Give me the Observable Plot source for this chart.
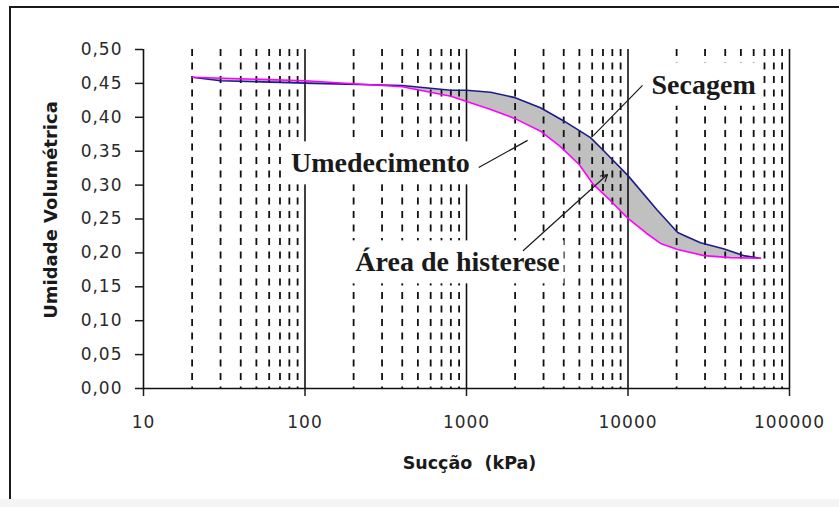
<!DOCTYPE html>
<html>
<head>
<meta charset="utf-8">
<script src="https://cdn.jsdelivr.net/npm/d3@7"></script>
<script src="https://cdn.jsdelivr.net/npm/@observablehq/plot@0.6"></script>
<style>
  html, body { margin: 0; padding: 0; background: #fff; }
  #chart { position: relative; width: 839px; height: 507px; overflow: hidden; }
  #chart svg { display: block; }
  #chart .border { position: absolute; left: 9px; top: 6px; right: -10px; bottom: -10px;
    border-left: 2px solid #1a1a1a; border-top: 2px solid #1a1a1a; pointer-events: none; }
  #chart .base { position: absolute; left: 0; right: 0; bottom: 0; height: 8px; background: #f4f4f4; }
  g[aria-label="x-axis tick label"] text,
  g[aria-label="y-axis tick label"] text { letter-spacing: 1px; }
</style>
</head>
<body>
<div id="chart"></div>
<script>
// Drying branch (Secagem): suction in kPa and volumetric water content
const drySuction = [20, 30, 113, 400, 800, 1000, 1410, 2000, 2870, 3980, 5860, 7050, 8130, 10000, 15200, 20300, 22100, 28100, 39000, 51900, 66000];
const dryTheta   = [0.459, 0.454, 0.450, 0.447, 0.440, 0.440, 0.437, 0.429, 0.414, 0.395, 0.370, 0.351, 0.336, 0.314, 0.263, 0.230, 0.226, 0.215, 0.206, 0.196, 0.192];

// Wetting branch (Umedecimento)
const wetSuction = [20, 100, 400, 800, 1400, 2000, 2900, 3800, 5000, 6100, 7800, 10000, 13000, 15900, 20300, 29500, 43000, 66000];
const wetTheta   = [0.459, 0.454, 0.445, 0.431, 0.412, 0.398, 0.379, 0.357, 0.330, 0.301, 0.277, 0.251, 0.229, 0.214, 0.205, 0.196, 0.193, 0.192];

// Axis ticks
const yTicks = [0, 0.05, 0.10, 0.15, 0.20, 0.25, 0.30, 0.35, 0.40, 0.45, 0.50];
const xMajor = [10, 100, 1000, 10000, 100000];
const xMinor = [20, 30, 40, 50, 60, 70, 80, 90,
                200, 300, 400, 500, 600, 700, 800, 900,
                2000, 3000, 4000, 5000, 6000, 7000, 8000, 9000,
                20000, 30000, 40000, 50000, 60000, 70000, 80000, 90000];

// Callout labels
const labels = ["Secagem", "Umedecimento", "Área de histerese"];

const drying = drySuction.map((s, i) => ({s, theta: dryTheta[i]}));
const wetting = wetSuction.map((s, i) => ({s, theta: wetTheta[i]}));
// Closed outline between the two branches
const hysteresis = [...drying, ...wetting.slice().reverse()];

const callouts = [
  {text: labels[0], s: 29400, theta: 0.448},
  {text: labels[1], s: 293, theta: 0.332},
  {text: labels[2], s: 879, theta: 0.186}
];
const leaders = [
  {s1: 12300, t1: 0.447, s2: 6100, t2: 0.373},
  {s1: 1190, t1: 0.326, s2: 2390, t2: 0.366}
];
const pointer = [{s1: 2250, t1: 0.2035, s2: 7460, t2: 0.3156}];

const fmtY = d => d.toFixed(2).replace(".", ",");

const chart = Plot.plot({
  width: 839,
  height: 507,
  marginLeft: 143,
  marginRight: 50,
  marginTop: 49,
  marginBottom: 119,
  x: {type: "log", domain: [10, 100000]},
  y: {domain: [0, 0.5]},
  style: {fontFamily: "DejaVu Sans", fontSize: "17px", color: "#1a1a1a", background: "#fff", overflow: "visible"},
  marks: [
    Plot.line(hysteresis, {x: "s", y: "theta", fill: "#c0c0c0", stroke: "none"}),
    Plot.ruleX(xMinor, {stroke: "#111", strokeWidth: 1.8, strokeDasharray: "7,6.5"}),
    Plot.ruleX(xMajor.slice(1), {stroke: "#111", strokeWidth: 1.6}),
    Plot.ruleX([10], {stroke: "#111", strokeWidth: 1.6}),
    Plot.ruleY([0], {stroke: "#111", strokeWidth: 1.6}),
    Plot.axisY({ticks: yTicks, tickFormat: fmtY, tickSize: 8, tickPadding: 13, label: null, strokeWidth: 1.5, fill: "#2a2a2a"}),
    Plot.axisX({ticks: xMajor, tickFormat: d => String(d), tickSize: 8, tickPadding: 19, label: null, strokeWidth: 1.5, fill: "#2a2a2a"}),
    Plot.line(drying, {x: "s", y: "theta", stroke: "#1c1c8c", strokeWidth: 1.6}),
    Plot.line(wetting, {x: "s", y: "theta", stroke: "#ff00ff", strokeWidth: 1.6}),
    Plot.text(callouts, {x: "s", y: "theta", text: "text", className: "callout",
      fontFamily: "Liberation Serif", fontWeight: "bold", fontSize: 28, fill: "#1a1a1a"}),
    Plot.link(leaders, {x1: "s1", y1: "t1", x2: "s2", y2: "t2", stroke: "#1a1a1a", strokeWidth: 1.2}),
    Plot.arrow(pointer, {x1: "s1", y1: "t1", x2: "s2", y2: "t2", stroke: "#1a1a1a", strokeWidth: 1.2, headLength: 9}),
    Plot.text(["Umidade Volumétrica"], {text: d => d, frameAnchor: "left", textAnchor: "middle", lineAnchor: "middle",
      rotate: -90, dx: -92, dy: -9, fontWeight: "bold", fontSize: 18, fill: "#1a1a1a"}),
    Plot.text(["Sucção \u00a0(kPa)"], {text: d => d, frameAnchor: "bottom", textAnchor: "middle", lineAnchor: "middle",
      dx: 3, dy: 75, fontWeight: "bold", fontSize: 17.5, fill: "#1a1a1a"})
  ]
});

const host = document.getElementById("chart");
host.appendChild(chart);
const border = document.createElement("div");
border.className = "border";
host.appendChild(border);
const base = document.createElement("div");
base.className = "base";
host.appendChild(base);

// White boxes behind the callout labels so the grid does not run through them
d3.select(chart).selectAll("g.callout text").each(function () {
  const bb = this.getBBox();
  const padX = 4, padY = 6;
  const rect = document.createElementNS("http://www.w3.org/2000/svg", "rect");
  rect.setAttribute("x", bb.x - padX);
  rect.setAttribute("y", bb.y - padY);
  rect.setAttribute("width", bb.width + 2 * padX);
  rect.setAttribute("height", bb.height + 2 * padY);
  rect.setAttribute("fill", "#fff");
  const tr = this.getAttribute("transform");
  if (tr) rect.setAttribute("transform", tr);
  this.parentNode.insertBefore(rect, this);
});
</script>
</body>
</html>
